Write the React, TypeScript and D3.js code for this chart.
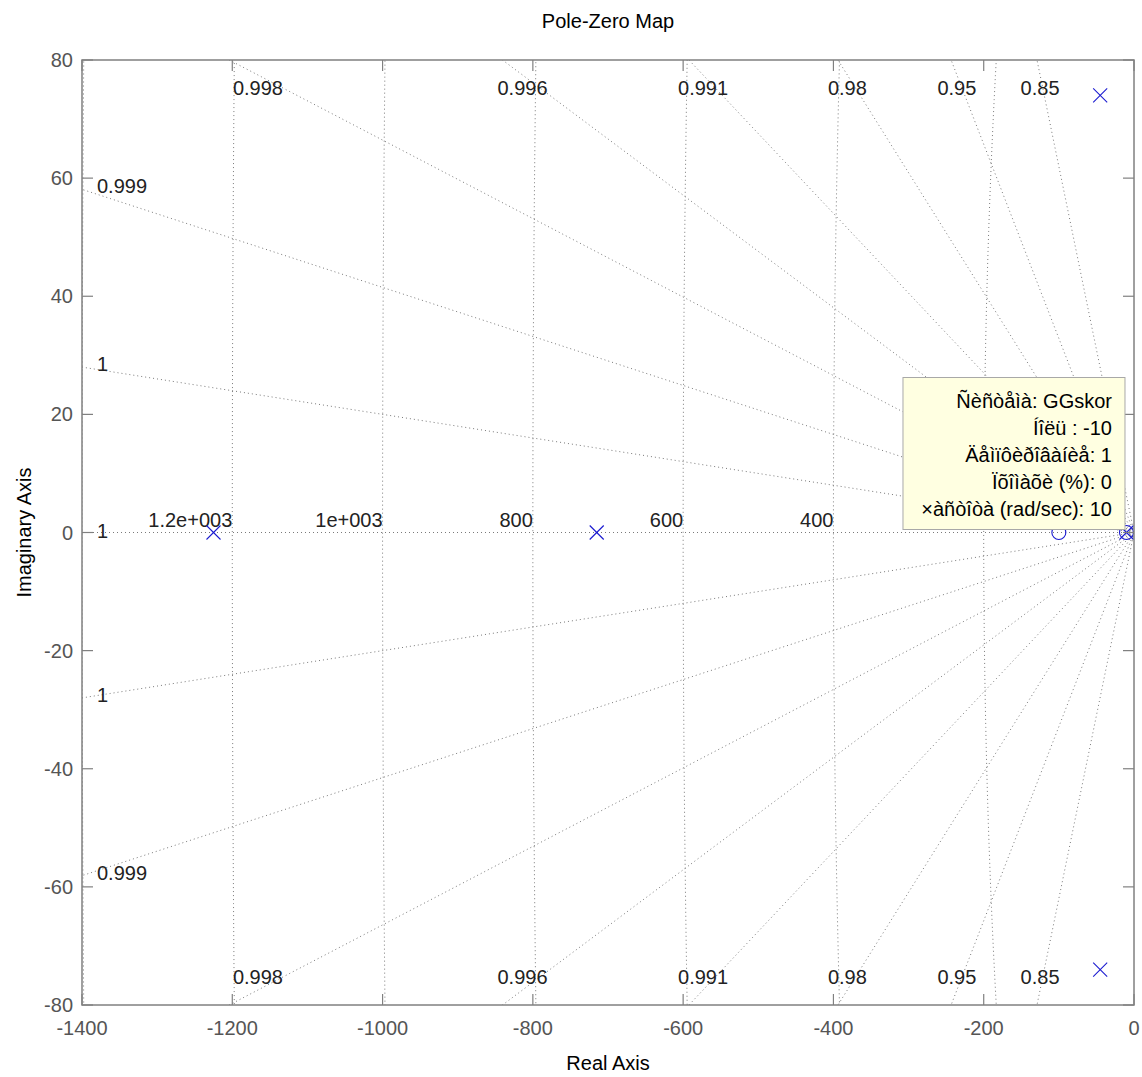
import React from "react";
import * as d3 from "d3";

// ---- data ----
const xTicks = [-1400, -1200, -1000, -800, -600, -400, -200, 0];
const yTicks = [-80, -60, -40, -20, 0, 20, 40, 60, 80];
const wnValues = [200, 400, 600, 800, 1000, 1200, 1400];
const wnLabels = ["200", "400", "600", "800", "1e+003", "1.2e+003", "1.4e+003"];
const zetaValues = [0.9998, 0.99914, 0.9978, 0.9955, 0.991, 0.98, 0.95, 0.85];
const zetaLabels = ["1", "0.999", "0.998", "0.996", "0.991", "0.98", "0.95", "0.85"];
const poleRe = [-1225, -715, -45, -45, -10];
const poleIm = [0, 0, 74, -74, 0];
const zeroRe = [-100, -10];
const zeroIm = [0, 0];
const tipPoint = [-10, 0];
const tipLines = [
  "Ñèñòåìà: GGskor",
  "Íîëü : -10",
  "Äåìïôèðîâàíèå: 1",
  "Ïõîìàõè (%): 0",
  "×àñòîòà (rad/sec): 10",
];

const W = 1142;
const H = 1077;
const L = 82, R = 1134, T = 60, B = 1005;
const FONT = "'Liberation Sans', Arial, Helvetica, sans-serif";
const GRID = "#7a7a7a";

export default function App() {
  const x = d3.scaleLinear().domain([-1400, 0]).range([L, R]);
  const y = d3.scaleLinear().domain([-80, 80]).range([B, T]);
  const line = d3.line<[number, number]>().x((d) => x(d[0])).y((d) => y(d[1]));

  // data tip box geometry (anchored to the tipped point)
  const px = x(tipPoint[0]);
  const py = y(tipPoint[1]);
  const boxR = px - 1.5;
  const boxB = py - 3;
  const boxW = 222;
  const boxH = 152;
  const boxL = boxR - boxW;

  // natural frequency semicircles
  const circles = wnValues.map((wn) => {
    const pts: [number, number][] = d3.range(0, 721).map((i) => {
      const a = Math.PI / 2 + (i / 720) * Math.PI;
      return [wn * Math.cos(a), wn * Math.sin(a)];
    });
    return line(pts) as string;
  });

  // damping rays
  const Rbig = 5000;
  const rays: string[] = [];
  rays.push(line([[0, 0], [-Rbig, 0]]) as string);
  const rayLabels: { x: number; y: number; t: string; anchor: string }[] = [];
  rayLabels.push({ x: L + 15, y: y(0) - 2, t: "1", anchor: "start" });
  zetaValues.forEach((z, i) => {
    const s = Math.sqrt(1 - z * z) / z;
    [1, -1].forEach((sg) => {
      rays.push(line([[0, 0], [-Rbig, sg * Rbig * s]]) as string);
      const imAtLeft = 1400 * s;
      if (imAtLeft < 80) {
        rayLabels.push({ x: L + 15, y: y(sg * imAtLeft) - 3, t: zetaLabels[i], anchor: "start" });
      } else {
        const yPix = sg > 0 ? T + 15 : B - 15;
        const im = y.invert(yPix);
        const re = -Math.abs(im) / s;
        rayLabels.push({ x: x(re), y: sg > 0 ? T + 28 : B - 28, t: zetaLabels[i], anchor: "middle" });
      }
    });
  });

  // wn labels: only those visible (inside axes, not hidden by the data tip)
  const wnShown = wnValues
    .map((wn, i) => ({ xp: x(-wn), t: wnLabels[i] }))
    .filter((d) => d.xp > L + 2 && !(d.xp > boxL && d.xp < boxR));

  const tl = 11;
  const ms = 7;

  return (
    <svg
      width={W}
      height={H}
      style={{ position: "absolute", left: 0, top: 0, background: "#fff" }}
      fontFamily={FONT}
    >
      <defs>
        <clipPath id="plotclip">
          <rect x={L} y={T} width={R - L} height={B - T} />
        </clipPath>
      </defs>
      <rect x={0} y={0} width={W} height={H} fill="#fff" />

      <g clipPath="url(#plotclip)">
        {circles.map((d, i) => (
          <path key={"c" + i} d={d} fill="none" stroke={GRID} strokeWidth={1} strokeDasharray="1,3" />
        ))}
        {rays.map((d, i) => (
          <path key={"r" + i} d={d} fill="none" stroke={GRID} strokeWidth={1} strokeDasharray="1,3" />
        ))}
        {wnShown.map((d, i) => (
          <text key={"wl" + i} x={d.xp} y={y(0) - 6} textAnchor="end" fontSize={20} fill="#222">
            {d.t}
          </text>
        ))}
        {rayLabels.map((l, i) => (
          <text key={"rl" + i} x={l.x} y={l.y} textAnchor={l.anchor as any} dominantBaseline="central" fontSize={20} fill="#222">
            {l.t}
          </text>
        ))}
        {poleRe.map((re, i) => {
          const cx = x(re), cy = y(poleIm[i]);
          return (
            <g key={"p" + i} stroke="#1a1ad0" strokeWidth={1.1}>
              <line x1={cx - ms} y1={cy - ms} x2={cx + ms} y2={cy + ms} />
              <line x1={cx - ms} y1={cy + ms} x2={cx + ms} y2={cy - ms} />
            </g>
          );
        })}
        {zeroRe.map((re, i) => (
          <circle key={"z" + i} cx={x(re)} cy={y(zeroIm[i])} r={ms} fill="none" stroke="#1a1ad0" strokeWidth={1.1} />
        ))}
      </g>

      {/* axes box */}
      <rect x={L} y={T} width={R - L} height={B - T} fill="none" stroke="#808080" strokeWidth={1.5} />
      {xTicks.map((t) => (
        <g key={"xt" + t}>
          <line x1={x(t)} x2={x(t)} y1={B} y2={B - tl} stroke="#808080" strokeWidth={1.2} />
          <line x1={x(t)} x2={x(t)} y1={T} y2={T + tl} stroke="#808080" strokeWidth={1.2} />
          <text x={x(t)} y={B + 23} textAnchor="middle" dominantBaseline="central" fontSize={20} fill="#555">
            {t}
          </text>
        </g>
      ))}
      {yTicks.map((t) => (
        <g key={"yt" + t}>
          <line x1={L} x2={L + tl} y1={y(t)} y2={y(t)} stroke="#808080" strokeWidth={1.2} />
          <line x1={R} x2={R - tl} y1={y(t)} y2={y(t)} stroke="#808080" strokeWidth={1.2} />
          <text x={L - 9} y={y(t)} textAnchor="end" dominantBaseline="central" fontSize={20} fill="#555">
            {t}
          </text>
        </g>
      ))}

      {/* data tip */}
      <g>
        <rect x={boxL} y={boxB - boxH} width={boxW} height={boxH} fill="#ffffe1" stroke="#a8a8a8" strokeWidth={1} />
        {tipLines.map((s, i) => (
          <text key={"tt" + i} x={boxR - 13} y={boxB - boxH + 23 + i * 27} textAnchor="end" dominantBaseline="central" fontSize={20} fill="#000">
            {s}
          </text>
        ))}
      </g>

      <text x={(L + R) / 2} y={21} textAnchor="middle" dominantBaseline="central" fontSize={20} fill="#000">
        Pole-Zero Map
      </text>
      <text x={(L + R) / 2} y={1063} textAnchor="middle" dominantBaseline="central" fontSize={20} fill="#000">
        Real Axis
      </text>
      <text
        transform={`translate(24, ${(T + B) / 2}) rotate(-90)`}
        textAnchor="middle"
        dominantBaseline="central"
        fontSize={20}
        fill="#000"
      >
        Imaginary Axis
      </text>
    </svg>
  );
}
